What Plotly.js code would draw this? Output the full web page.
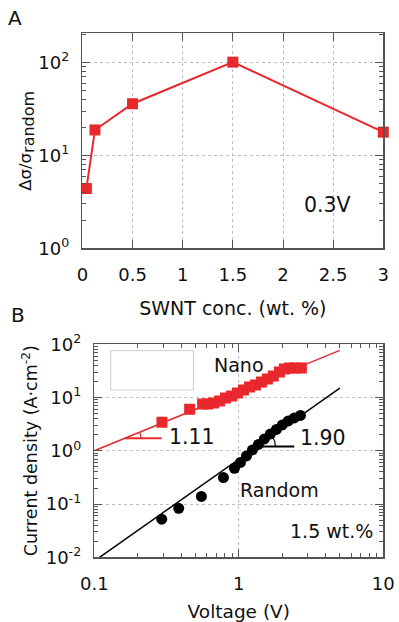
<!DOCTYPE html>
<html>
<head>
<meta charset="utf-8">
<script src="https://cdn.plot.ly/plotly-3.0.1.min.js"></script>
<style>html,body{margin:0;padding:0;background:#fff}#chart{width:399px;height:622px}</style>
</head>
<body>
<div id="chart"></div>
<script>
// ---- Panel A data ----
const concX = [0.04, 0.125, 0.5, 1.5, 3];
const ratioY = [4.4, 18.8, 36, 101, 17.8];

// ---- Panel B data ----
const nanoV = [0.294, 0.457, 0.562, 0.608, 0.669, 0.736, 0.809, 0.891, 0.979, 1.077, 1.186, 1.303, 1.434, 1.577, 1.734, 1.908, 2.065, 2.24, 2.46, 2.71];
const nanoJ = [3.44, 6.0, 7.59, 7.59, 7.92, 8.63, 9.83, 10.7, 12.2, 13.9, 15.8, 17.2, 19.6, 22.3, 25.4, 30.2, 34.4, 35.9, 35.9, 35.9];
const randV = [0.293, 0.384, 0.551, 0.783, 0.933, 1.027, 1.13, 1.243, 1.367, 1.504, 1.655, 1.82, 2.0, 2.2, 2.42, 2.67];
const randJ = [0.052, 0.083, 0.139, 0.314, 0.468, 0.605, 0.802, 1.04, 1.32, 1.67, 2.07, 2.52, 3.06, 3.64, 4.14, 4.61];

// power-law fits
const fitV = [0.1, 5];
const nanoFitJ = [1.0, 77];
const randFitJ = [0.0085, 15];

// slope markers
const slopeValues = [1.11, 1.90];
const slopeLabels = ['1.11', '1.90'];
const slopeBaseV = [[0.163, 0.292], [1.324, 2.42]];
const slopeBaseJ = [1.72, 1.2];

// tick labels
const logTickValsA = [1, 10, 100];
const logTickTextA = ['10<sup>0</sup>', '10<sup>1</sup>', '10<sup>2</sup>'];
const logTickValsBy = [0.01, 0.1, 1, 10, 100];
const logTickTextBy = ['10<sup>-2</sup>', '10<sup>-1</sup>', '10<sup>0</sup>', '10<sup>1</sup>', '10<sup>2</sup>'];
const logTickValsBx = [0.1, 1, 10];
const logTickTextBx = ['0.1', '1', '10'];

const W = 399, H = 622;
const RED = '#e8282d';
const FRAME = '#555555';
const FONT = 'DejaVu Sans, Verdana, sans-serif';

const domAx = [0.2065, 0.9607], domAy = [0.6008, 0.9465];
const domBx = [0.2363, 0.9607], domBy = [0.104, 0.4465];
const rangeBx = [-1, 1], rangeBy = [-2, 2];
const pxPerDecX = (domBx[1] - domBx[0]) * W / (rangeBx[1] - rangeBx[0]);
const pxPerDecY = (domBy[1] - domBy[0]) * H / (rangeBy[1] - rangeBy[0]);

function arc(v0, j0, slope, rpx) {
  const ang = Math.atan(slope * pxPerDecY / pxPerDecX);
  const xs = [], ys = [];
  for (let i = 0; i <= 12; i++) {
    const t = ang * i / 12;
    xs.push(Math.pow(10, Math.log10(v0) + rpx * Math.cos(t) / pxPerDecX));
    ys.push(Math.pow(10, Math.log10(j0) + rpx * Math.sin(t) / pxPerDecY));
  }
  return {xs, ys};
}

const traces = [
  {x: concX, y: ratioY, xaxis: 'x', yaxis: 'y', mode: 'lines+markers',
   line: {color: RED, width: 2}, marker: {symbol: 'square', size: 11, color: RED}, cliponaxis: false},
  {x: fitV, y: nanoFitJ, xaxis: 'x2', yaxis: 'y2', mode: 'lines', line: {color: RED, width: 1.5}},
  {x: fitV, y: randFitJ, xaxis: 'x2', yaxis: 'y2', mode: 'lines', line: {color: '#000', width: 1.5}},
  {x: nanoV, y: nanoJ, xaxis: 'x2', yaxis: 'y2', mode: 'markers',
   marker: {symbol: 'square', size: 11, color: RED}},
  {x: randV, y: randJ, xaxis: 'x2', yaxis: 'y2', mode: 'markers',
   marker: {symbol: 'circle', size: 11, color: '#000'}}
];

const slopeColors = [RED, '#000'];
const arcR = [16, 19];
for (let k = 0; k < 2; k++) {
  traces.push({x: slopeBaseV[k], y: [slopeBaseJ[k], slopeBaseJ[k]], xaxis: 'x2', yaxis: 'y2',
    mode: 'lines', line: {color: slopeColors[k], width: 2}});
  const a = arc(slopeBaseV[k][0], slopeBaseJ[k], slopeValues[k], arcR[k]);
  traces.push({x: a.xs, y: a.ys, xaxis: 'x2', yaxis: 'y2', mode: 'lines',
    line: {color: slopeColors[k], width: 1.2}});
}

const common = {
  showline: true, linecolor: FRAME, linewidth: 1.5, mirror: 'allticks',
  ticks: 'inside', ticklen: 8, tickcolor: FRAME, tickwidth: 1,
  showgrid: true, gridcolor: '#bdbdbd', griddash: 'dot', gridwidth: 1,
  zeroline: false, tickfont: {family: FONT, size: 18, color: '#111'}
};
const minorLog = {ticks: 'inside', ticklen: 4, tickcolor: FRAME, dtick: 'D1', showgrid: false};

function px2paper(x, y) { return {x: x / W, y: 1 - y / H}; }
function ann(text, x, y, size) {
  const p = px2paper(x, y);
  return {text, x: p.x, y: p.y, xref: 'paper', yref: 'paper', showarrow: false,
    xanchor: 'center', yanchor: 'middle', font: {family: FONT, size, color: '#111'}};
}

const layout = {
  width: W, height: H, margin: {l: 0, r: 0, t: 0, b: 0},
  paper_bgcolor: '#fff', plot_bgcolor: '#fff', showlegend: false,
  font: {family: FONT, color: '#111'},
  xaxis: Object.assign({}, common, {domain: domAx, anchor: 'y', range: [0, 3], dtick: 0.5, tick0: 0,
    ticklabelstandoff: 10,
    title: {text: 'SWNT conc. (wt. %)', font: {family: FONT, size: 19}, standoff: 17}}),
  yaxis: Object.assign({}, common, {domain: domAy, anchor: 'x', type: 'log', range: [0, 2.315],
    tickmode: 'array', tickvals: logTickValsA, ticktext: logTickTextA, minor: minorLog,
    ticklabelstandoff: 8,
    title: {text: 'Δσ/σ<sub><span style="font-size:16px">random</span></sub>', font: {family: FONT, size: 16.5}, standoff: 1}}),
  xaxis2: Object.assign({}, common, {domain: domBx, anchor: 'y2', type: 'log', range: rangeBx,
    tickmode: 'array', tickvals: logTickValsBx, ticktext: logTickTextBx, minor: minorLog,
    ticklabelstandoff: 10,
    title: {text: 'Voltage (V)', font: {family: FONT, size: 18.5}, standoff: 17}}),
  yaxis2: Object.assign({}, common, {domain: domBy, anchor: 'x2', type: 'log', range: rangeBy,
    tickmode: 'array', tickvals: logTickValsBy, ticktext: logTickTextBy, minor: minorLog,
    ticklabelstandoff: 8,
    title: {text: 'Current density (A·cm<sup>-2</sup>)', font: {family: FONT, size: 17.5}, standoff: 3}}),
  shapes: [
    {type: 'rect', xref: 'x2 domain', yref: 'y2 domain', x0: 0.057, x1: 0.343, y0: 0.785, y1: 0.97,
     line: {color: '#cccccc', width: 1}, fillcolor: 'rgba(0,0,0,0)'}
  ],
  annotations: [
    ann('A', 15, 18, 20),
    ann('B', 18, 315, 20),
    ann('0.3V', 327.5, 204.5, 20.5),
    ann('Nano', 239, 364.5, 19),
    ann(slopeLabels[0], 192, 437, 20.5),
    ann(slopeLabels[1], 322.5, 438, 20.5),
    ann('Random', 279, 489.5, 19),
    ann('1.5 wt.%', 331, 530.5, 19)
  ]
};

Plotly.newPlot('chart', traces, layout, {staticPlot: true, displayModeBar: false});
</script>
</body>
</html>
